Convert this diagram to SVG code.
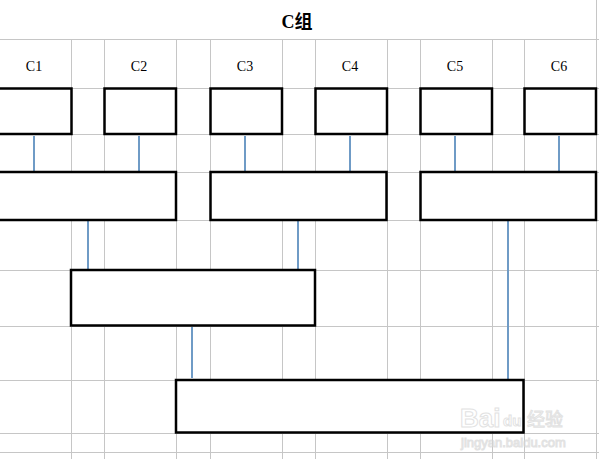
<svg xmlns="http://www.w3.org/2000/svg" width="599" height="459" viewBox="0 0 599 459">
<style>
.grid line{stroke:#c6c6c6;stroke-width:1}
.box{fill:#fff;stroke:#000;stroke-width:2.5}
.lbl{font-family:"Liberation Serif","Noto Sans CJK SC",serif;font-size:14px;fill:#000;text-anchor:middle}
.title{font-family:"Liberation Serif","Noto Sans CJK SC",serif;font-size:18px;font-weight:bold;fill:#000;text-anchor:middle}
#connectors line{stroke:#6f9bc6;stroke-width:2}
.wm{font-family:"Liberation Sans","Noto Sans CJK SC",sans-serif;fill:#fff;stroke:#d6d6d6;stroke-width:1}
</style>
<rect width="599" height="459" fill="#fff"/>
<g class="grid">
<line x1="0" y1="39.5" x2="599" y2="39.5"/>
<line x1="0" y1="88.5" x2="599" y2="88.5"/>
<line x1="0" y1="134.5" x2="599" y2="134.5"/>
<line x1="0" y1="172.5" x2="599" y2="172.5"/>
<line x1="0" y1="220.5" x2="599" y2="220.5"/>
<line x1="0" y1="270.5" x2="599" y2="270.5"/>
<line x1="0" y1="326.5" x2="599" y2="326.5"/>
<line x1="0" y1="380.5" x2="599" y2="380.5"/>
<line x1="0" y1="433.5" x2="599" y2="433.5"/>
<line x1="0" y1="452.5" x2="599" y2="452.5"/>
<line x1="71.5" y1="39.5" x2="71.5" y2="459"/>
<line x1="104.5" y1="39.5" x2="104.5" y2="459"/>
<line x1="176.5" y1="39.5" x2="176.5" y2="459"/>
<line x1="210.5" y1="39.5" x2="210.5" y2="459"/>
<line x1="282.5" y1="39.5" x2="282.5" y2="459"/>
<line x1="315.5" y1="39.5" x2="315.5" y2="459"/>
<line x1="387.5" y1="39.5" x2="387.5" y2="459"/>
<line x1="420.5" y1="39.5" x2="420.5" y2="459"/>
<line x1="492.5" y1="39.5" x2="492.5" y2="459"/>
<line x1="524.5" y1="39.5" x2="524.5" y2="459"/>
<line x1="596.5" y1="0" x2="596.5" y2="459"/>
</g>
<text class="title" x="297" y="28">C组</text>
<g id="labels">
<text class="lbl" x="34" y="71">C1</text>
<text class="lbl" x="139" y="71">C2</text>
<text class="lbl" x="245" y="71">C3</text>
<text class="lbl" x="350" y="71">C4</text>
<text class="lbl" x="455" y="71">C5</text>
<text class="lbl" x="559" y="71">C6</text>
</g>
<g id="connectors">
<line x1="34" y1="136" x2="34" y2="171"/>
<line x1="139" y1="136" x2="139" y2="171"/>
<line x1="245" y1="136" x2="245" y2="171"/>
<line x1="350" y1="136" x2="350" y2="171"/>
<line x1="455" y1="136" x2="455" y2="171"/>
<line x1="559" y1="136" x2="559" y2="171"/>
<line x1="88" y1="221" x2="88" y2="271"/>
<line x1="298" y1="221" x2="298" y2="271"/>
<line x1="508" y1="221" x2="508" y2="380"/>
<line x1="192" y1="327" x2="192" y2="378"/>
</g>
<g id="c1"><rect class="box" x="-5" y="88.5" width="76.5" height="45.5"/></g>
<g id="c2"><rect class="box" x="104.5" y="88.5" width="71.5" height="45.5"/></g>
<g id="c3"><rect class="box" x="210.5" y="88.5" width="71.5" height="45.5"/></g>
<g id="c4"><rect class="box" x="315.5" y="88.5" width="71.5" height="45.5"/></g>
<g id="c5"><rect class="box" x="420.5" y="88.5" width="71.5" height="45.5"/></g>
<g id="c6"><rect class="box" x="524.5" y="88.5" width="71.5" height="45.5"/></g>
<g id="c12"><rect class="box" x="-5" y="172" width="181" height="48"/></g>
<g id="c34"><rect class="box" x="210.5" y="172" width="176" height="48"/></g>
<g id="c56"><rect class="box" x="420.5" y="172" width="175.5" height="48"/></g>
<g id="c1234"><rect class="box" x="71" y="270" width="244" height="55.5"/></g>
<g id="final"><rect class="box" x="176" y="380" width="347.5" height="52.5"/></g>
<g id="watermark" opacity="0.7">
<text class="wm" x="460" y="427" font-size="26" font-weight="bold">Bai</text>
<text class="wm" x="503" y="426" font-size="15" font-weight="bold">du</text>
<text class="wm" x="527" y="426" font-size="18">经验</text>
<text class="wm" x="461" y="447" font-size="13">jingyan.baidu.com</text>
</g>
</svg>
